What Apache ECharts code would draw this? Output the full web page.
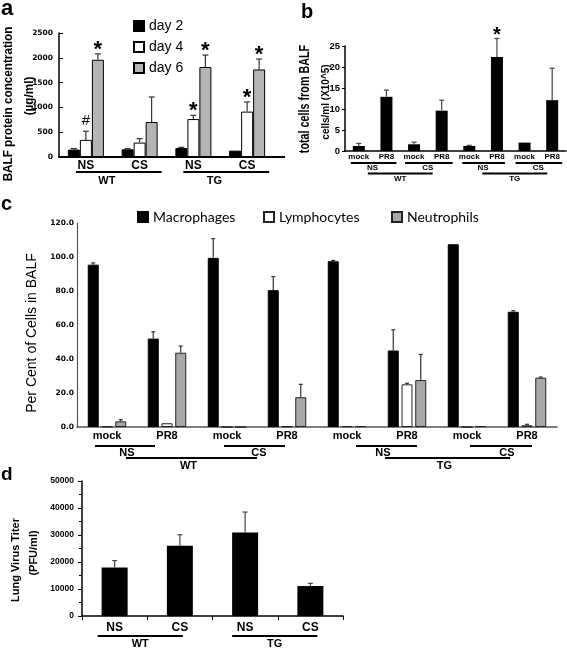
<!DOCTYPE html>
<html><head><meta charset="utf-8">
<script src="https://cdn.jsdelivr.net/npm/echarts@6/dist/echarts.min.js"></script>
<style>html,body{margin:0;padding:0;background:#fff}#c{width:567px;height:649px}</style>
</head><body><div id="c"></div>
<script>
// ---------- Panel a: BALF protein concentration ----------
const aCats = ['NS', 'CS', 'NS', 'CS'];
const aGenotypes = ['WT', 'TG'];
const aSeriesNames = ['day 2', 'day 4', 'day 6'];
const aDay2 = [150, 155, 180, 128];
const aDay2Err = [170, 168, 195, 138];
const aDay4 = [345, 290, 765, 915];
const aDay4Err = [520, 370, 840, 1110];
const aDay6 = [1960, 705, 1815, 1765];
const aDay6Err = [2080, 1210, 2055, 1975];
const aDay2Marks = ['', '', '', ''];
const aDay4Marks = ['#', '', '*', '*'];
const aDay6Marks = ['*', '', '*', '*'];

// ---------- Panel b: total cells ----------
const bCats = ['mock', 'PR8', 'mock', 'PR8', 'mock', 'PR8', 'mock', 'PR8'];
const bSmoke = ['NS', 'CS', 'NS', 'CS'];
const bGenotypes = ['WT', 'TG'];
const bCells = [1.2, 12.9, 1.6, 9.6, 1.2, 22.4, 2.0, 12.1];
const bCellsErr = [1.8, 14.5, 2.1, 12.1, 1.35, 26.8, 2.0, 19.7];
const bMarks = ['', '', '', '', '', '*', '', ''];

// ---------- Panel c: per cent of cells ----------
const cCats = ['mock', 'PR8', 'mock', 'PR8', 'mock', 'PR8', 'mock', 'PR8'];
const cSmoke = ['NS', 'CS', 'NS', 'CS'];
const cGenotypes = ['WT', 'TG'];
const cSeriesNames = ['Macrophages', 'Lymphocytes', 'Neutrophils'];
const cMacro = [95.5, 52.0, 99.5, 80.5, 97.5, 45.0, 107.5, 67.8];
const cMacroErr = [96.5, 56.0, 110.8, 88.5, 98.0, 57.2, 107.5, 68.4];
const cLymph = [0.3, 2.2, 0, 0.4, 0.5, 25.1, 0, 1.0];
const cLymphErr = [0.3, 2.5, 0, 0.4, 0.6, 25.7, 0, 1.6];
const cNeut = [3.3, 43.7, 0, 17.5, 0.5, 27.6, 0.5, 29.0];
const cNeutErr = [4.3, 47.6, 0, 25.1, 0.6, 42.7, 0.5, 29.4];

// ---------- Panel d: lung virus titer ----------
const dCats = ['NS', 'CS', 'NS', 'CS'];
const dGenotypes = ['WT', 'TG'];
const dTiter = [18000, 26000, 30900, 11100];
const dTiterErr = [20500, 30100, 38500, 12100];

const AR = '"Liberation Sans", Arial, sans-serif';
const DV = '"DejaVu Sans", sans-serif';

function errSeries(xi, vals, errs, offset, cap, color, marks, markSpec) {
  return {
    type: 'custom', xAxisIndex: xi, yAxisIndex: xi, z: 4, silent: true, clip: false,
    data: vals.map((v, i) => [i, v, errs[i]]),
    encode: { x: 0, y: [1, 2] },
    renderItem: function (params, api) {
      const i = api.value(0);
      const x = api.coord([i, 0])[0] + offset;
      const y1 = api.coord([i, api.value(1)])[1];
      const y2 = api.coord([i, api.value(2)])[1];
      const ch = [];
      if (y1 - y2 > 0.6) {
        ch.push({ type: 'line', shape: { x1: x, y1: y1, x2: x, y2: y2 }, style: { stroke: color, lineWidth: 1.2 } });
        ch.push({ type: 'line', shape: { x1: x - cap / 2, y1: y2, x2: x + cap / 2, y2: y2 }, style: { stroke: color, lineWidth: 1.2 } });
      }
      const m = marks ? marks[params.dataIndex] : '';
      if (m) {
        const s = markSpec[m];
        ch.push({ type: 'text', x: x, y: y2 - s.off,
          style: { text: m, font: s.font, fill: '#000', align: 'center', verticalAlign: 'middle', textAlign: 'center', textVerticalAlign: 'middle' } });
      }
      return { type: 'group', children: ch };
    }
  };
}

const markA = { '*': { font: 'bold 22px ' + AR, off: 4 }, '#': { font: '15px ' + AR, off: 10 } };
const markB = { '*': { font: 'bold 20px ' + AR, off: 3 } };
const plain = v => String(v);

const chart = echarts.init(document.getElementById('c'), null, { renderer: 'canvas' });

const option = {
  animation: false,
  backgroundColor: '#fff',
  grid: [
    { left: 59, top: 33, width: 215, height: 124 },
    { left: 345, top: 46, width: 221, height: 105 },
    { left: 77, top: 223, width: 480, height: 204 },
    { left: 82, top: 481, width: 261, height: 135 }
  ],
  legend: [
    { data: aSeriesNames, orient: 'vertical', left: 128, top: 14, itemWidth: 10, itemHeight: 10, itemGap: 7, icon: 'rect',
      textStyle: { fontFamily: AR, fontSize: 14, color: '#000' } },
    { data: [cSeriesNames[0]], left: 132, top: 205, itemWidth: 10, itemHeight: 10, icon: 'rect',
      textStyle: { fontFamily: 'Lato, sans-serif', fontSize: 14, color: '#000' } },
    { data: [cSeriesNames[1]], left: 258, top: 205, itemWidth: 10, itemHeight: 10, icon: 'rect',
      textStyle: { fontFamily: 'Lato, sans-serif', fontSize: 14, color: '#000' } },
    { data: [cSeriesNames[2]], left: 386, top: 205, itemWidth: 10, itemHeight: 10, icon: 'rect',
      textStyle: { fontFamily: 'Lato, sans-serif', fontSize: 14, color: '#000' } }
  ],
  xAxis: [
    { gridIndex: 0, type: 'category', data: aCats, axisLine: { lineStyle: { color: '#000', width: 2 } }, axisTick: { show: false },
      axisLabel: { fontFamily: AR, fontWeight: 'bold', fontSize: 12, color: '#000', margin: 3 } },
    { gridIndex: 1, type: 'category', data: bCats, axisLine: { lineStyle: { color: '#000', width: 1.5 } }, axisTick: { show: false },
      axisLabel: { fontFamily: AR, fontWeight: 'bold', fontSize: 8, color: '#000', margin: 2 } },
    { gridIndex: 2, type: 'category', data: cCats, axisLine: { lineStyle: { color: '#555', width: 1.5 } }, axisTick: { show: false },
      axisLabel: { fontFamily: AR, fontWeight: 'bold', fontSize: 11, color: '#000', margin: 3 } },
    { gridIndex: 3, type: 'category', data: dCats, axisLine: { lineStyle: { color: '#000', width: 1.5 } },
      axisTick: { show: true, length: 4, lineStyle: { color: '#000' } },
      axisLabel: { fontFamily: AR, fontWeight: 'bold', fontSize: 12, color: '#000', margin: 6 } }
  ],
  yAxis: [
    { gridIndex: 0, type: 'value', min: 0, max: 2500, interval: 500, splitLine: { show: false },
      axisLine: { show: true, lineStyle: { color: '#000', width: 1.5 } },
      axisTick: { show: true, inside: true, length: 4, lineStyle: { color: '#000' } },
      axisLabel: { fontFamily: DV, fontWeight: 'bold', fontSize: 7.5, color: '#000', margin: 6, formatter: plain } },
    { gridIndex: 1, type: 'value', min: 0, max: 25, interval: 5, splitLine: { show: false },
      axisLine: { show: true, lineStyle: { color: '#000', width: 1.5 } },
      axisTick: { show: true, length: 3, lineStyle: { color: '#000' } },
      axisLabel: { fontFamily: AR, fontWeight: 'bold', fontSize: 9.5, color: '#000', margin: 5, formatter: plain } },
    { gridIndex: 2, type: 'value', min: 0, max: 120, interval: 20, splitLine: { show: false },
      axisLine: { show: true, lineStyle: { color: '#555', width: 1.2 } },
      axisTick: { show: false },
      axisLabel: { fontFamily: DV, fontWeight: 'bold', fontSize: 7.5, color: '#000', margin: 3, formatter: v => v.toFixed(1) } },
    { gridIndex: 3, type: 'value', min: 0, max: 50000, interval: 10000, splitLine: { show: false },
      axisLine: { show: true, lineStyle: { color: '#000', width: 1.5 } },
      axisTick: { show: true, length: 4, lineStyle: { color: '#000' } },
      minorTick: { show: true, splitNumber: 2, length: 3, lineStyle: { color: '#000' } },
      axisLabel: { fontFamily: AR, fontWeight: 'bold', fontSize: 8.5, color: '#000', margin: 8, formatter: plain } }
  ],
  series: [
    { name: aSeriesNames[0], type: 'bar', xAxisIndex: 0, yAxisIndex: 0, data: aDay2, barWidth: 12, barGap: '0%',
      itemStyle: { color: '#000', borderColor: '#000', borderWidth: 1 } },
    { name: aSeriesNames[1], type: 'bar', xAxisIndex: 0, yAxisIndex: 0, data: aDay4, barWidth: 12, barGap: '0%',
      itemStyle: { color: '#fff', borderColor: '#000', borderWidth: 1 } },
    { name: aSeriesNames[2], type: 'bar', xAxisIndex: 0, yAxisIndex: 0, data: aDay6, barWidth: 12, barGap: '0%',
      itemStyle: { color: '#b4b4b4', borderColor: '#000', borderWidth: 1 } },
    errSeries(0, aDay2, aDay2Err, -12, 6, '#333', aDay2Marks, markA),
    errSeries(0, aDay4, aDay4Err, 0, 6, '#333', aDay4Marks, markA),
    errSeries(0, aDay6, aDay6Err, 12, 6, '#333', aDay6Marks, markA),

    { name: 'total cells', type: 'bar', xAxisIndex: 1, yAxisIndex: 1, data: bCells, barWidth: 12,
      itemStyle: { color: '#000' } },
    errSeries(1, bCells, bCellsErr, 0, 5, '#444', bMarks, markB),

    { name: cSeriesNames[0], type: 'bar', xAxisIndex: 2, yAxisIndex: 2, data: cMacro, barWidth: 11, barGap: '25%',
      itemStyle: { color: '#000', borderColor: '#000', borderWidth: 1 } },
    { name: cSeriesNames[1], type: 'bar', xAxisIndex: 2, yAxisIndex: 2, data: cLymph, barWidth: 11, barGap: '25%',
      itemStyle: { color: '#fff', borderColor: '#222', borderWidth: 1 } },
    { name: cSeriesNames[2], type: 'bar', xAxisIndex: 2, yAxisIndex: 2, data: cNeut, barWidth: 11, barGap: '25%',
      itemStyle: { color: '#a8a8a8', borderColor: '#222', borderWidth: 1 } },
    errSeries(2, cMacro, cMacroErr, -13.75, 4, '#333', null, null),
    errSeries(2, cLymph, cLymphErr, 0, 4, '#333', null, null),
    errSeries(2, cNeut, cNeutErr, 13.75, 4, '#333', null, null),

    { name: 'titer', type: 'bar', xAxisIndex: 3, yAxisIndex: 3, data: dTiter, barWidth: 26,
      itemStyle: { color: '#000' } },
    errSeries(3, dTiter, dTiterErr, 0, 5, '#444', null, null)
  ]
};
chart.setOption(option);

// ---------- annotation graphics (brackets, titles, panel letters) ----------
function px(axis, idx) { return chart.convertToPixel({ xAxisIndex: axis }, idx); }
function txt(t, x, y, font, extra) {
  return Object.assign({ type: 'text', x: x, y: y,
    style: { text: t, font: font, fill: '#000', align: 'center', verticalAlign: 'middle', textAlign: 'center', textVerticalAlign: 'middle' } }, extra || {});
}
function hline(x1, x2, y, w) {
  return { type: 'line', shape: { x1: x1, y1: y, x2: x2, y2: y }, style: { stroke: '#000', lineWidth: w || 2 } };
}
const g = [];
// panel a genotype brackets
[[0, 1], [2, 3]].forEach((pr, k) => {
  const x0 = px(0, pr[0]) - 10, x1 = px(0, pr[1]) + 22;
  g.push(hline(x0, x1, 172, 2));
  g.push(txt(aGenotypes[k], px(0, pr[0]) + 21, 181, 'bold 11px ' + AR));
});
// extend panel a x axis line
g.push({ type: 'line', shape: { x1: 274, y1: 157, x2: 285, y2: 157 }, style: { stroke: '#000', lineWidth: 2 } });

// panel b brackets
const bL1 = [[-8, 10], [-9, 11], [-7, 8], [-9, 10]];
for (let k = 0; k < 4; k++) {
  const a = px(1, 2 * k), b = px(1, 2 * k + 1);
  g.push(hline(a + bL1[k][0], b + bL1[k][1], 163, 1.8));
  g.push(txt(bSmoke[k], (a + b) / 2, 168, 'bold 8px ' + AR));
}
[[0, 3, 9, -9], [4, 7, 13, -5]].forEach((s, k) => {
  const x0 = px(1, s[0]) + s[2], x1 = px(1, s[1]) + s[3];
  g.push(hline(x0, x1, 173.5, 1.8));
  g.push(txt(bGenotypes[k], (x0 + x1) / 2, 178.5, 'bold 8px ' + AR));
});

// panel c brackets
const cL1 = [[0, -12, 1, -12, 0, 20], [2, -3, 3, -2, 3, -28], [4, 9, 5, 10, 4, 36], [6, 3, 7, 5, 7, -20]];
cL1.forEach((s, k) => {
  g.push(hline(px(2, s[0]) + s[1], px(2, s[2]) + s[3], 446, 2));
  g.push(txt(cSmoke[k], px(2, s[4]) + s[5], 452.5, 'bold 11px ' + AR));
});
[[0, 19, 3, -30], [4, 38, 7, -17]].forEach((s, k) => {
  const x0 = px(2, s[0]) + s[1], x1 = px(2, s[2]) + s[3];
  g.push(hline(x0, x1, 458, 2));
  g.push(txt(cGenotypes[k], (x0 + x1) / 2 - 3, 466, 'bold 11px ' + AR));
});

// panel d brackets
[[0, -17, 1, 3], [2, -13, 3, 7]].forEach((s, k) => {
  const x0 = px(3, s[0]) + s[1], x1 = px(3, s[2]) + s[3];
  g.push(hline(x0, x1, 636, 2));
  g.push(txt(dGenotypes[k], (x0 + x1) / 2, 644, 'bold 11px ' + AR));
});

// axis titles (rotated)
const R = Math.PI / 2;
g.push(txt('BALF protein concentration', 8, 104, 'bold 13px ' + AR, { rotation: R, scaleX: 0.9 }));
g.push(txt('(µg/ml)', 29, 96, 'bold 13px ' + AR, { rotation: R, scaleX: 0.9 }));
g.push(txt('total cells from BALF', 305, 99, 'bold 14px ' + AR, { rotation: R, scaleX: 0.77 }));
g.push(txt('cells/ml (X10^5)', 326, 102, 'bold 10px ' + AR, { rotation: R }));
g.push(txt('Per Cent of Cells in BALF', 32, 333, '14px ' + AR, { rotation: R }));
g.push(txt('Lung Virus Titer', 15.5, 560, 'bold 11px ' + AR, { rotation: R }));
g.push(txt('(PFU/ml)', 34, 553, 'bold 11px ' + AR, { rotation: R }));

// panel letters
function letter(t, x, yb, size) {
  return { type: 'text', x: x, y: yb, style: { text: t, font: 'bold ' + size + 'px ' + AR, fill: '#000', align: 'left', verticalAlign: 'bottom', textAlign: 'left', textVerticalAlign: 'bottom' } };
}
g.push(letter('a', 1, 20, 22));
g.push(letter('b', 301, 22.5, 20));
g.push(letter('c', 1, 214, 20));
g.push(letter('d', 1, 484, 19));

chart.setOption({ graphic: { elements: g } });
</script>
</body></html>
